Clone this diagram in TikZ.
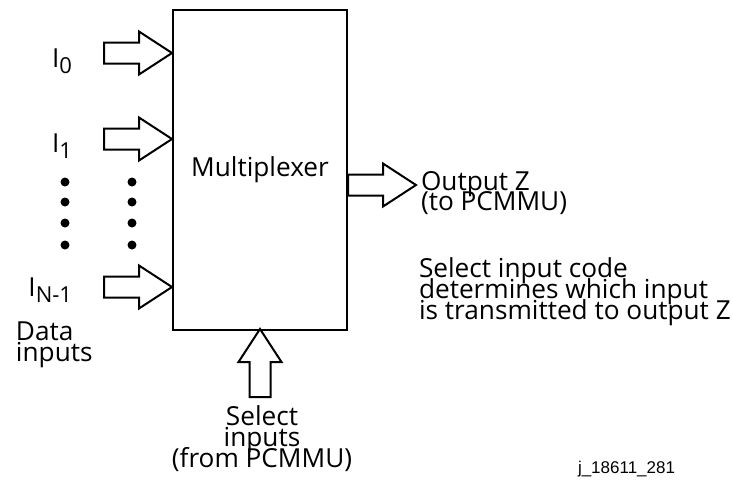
\documentclass[tikz,border=0pt]{standalone}
\usepackage{fontspec}
\setmainfont{Open Sans}
\newfontfamily\idfont{Liberation Sans}
\lineskiplimit=-100pt
\newcommand\lowidx[1]{\raisebox{-0.45ex}{\fontsize{11}{11}\selectfont #1}}

\begin{document}
\begin{tikzpicture}[x=0.5pt,y=-0.5pt,line width=1pt,font=\fontsize{13.1}{10.4}\selectfont,muxbox/.style={draw,minimum width=87pt,minimum height=160pt,inner sep=0pt},idxlabel/.style={inner sep=0pt,anchor=base east},txtblock/.style={inner sep=0pt,align=left,anchor=north west},dot/.style={circle,fill,inner sep=0pt,minimum size=4.5pt},fatarrow/.pic={\draw[line join=miter] (0,-10.5)--(35,-10.5)--(35,-21.5)--(68,0)--(35,21.5)--(35,10.5)--(0,10.5)--cycle;}]
\useasboundingbox (0,0) rectangle (733,484);
\node[muxbox] (mux) at (260,170) {Multiplexer};
\coordinate (in0) at (mux.west |- 0,53);
\coordinate (in1) at (mux.west |- 0,139);
\coordinate (inN) at (mux.west |- 0,287);
\coordinate (outZ) at (mux.east |- 0,185);
\foreach \c in {in0,in1,inN}{\pic at ([xshift=-34pt]\c) {fatarrow};}
\pic at (outZ) {fatarrow};
\pic[rotate=90] at ([yshift=-33pt]mux.south) {fatarrow};
\node[idxlabel] (lab0) at (73,67) {I\lowidx{0}};
\node[idxlabel] (lab1) at (73,152) {I\lowidx{1}};
\node[idxlabel] (labN) at (73,296) {I\lowidx{N-1}};
\foreach \y in {182,202,223,245}{\node[dot] (dl\y) at (65,\y) {};\node[dot] (dr\y) at (132,\y) {};}
\node[txtblock] (datalab) at (15,321) {Data\\inputs};
\node[txtblock] (outlab) at (420,170) {Output Z\\(to PCMMU)};
\node[txtblock] (codelab) at (418,257) {Select input code\\determines which input\\is transmitted to output Z};
\node[inner sep=0pt,align=center,anchor=north] (sellab) at (262,405) {Select\\inputs\\(from PCMMU)};
\node[inner sep=0pt,anchor=base west,font=\idfont\fontsize{8.5}{10}\selectfont] (figid) at (577,473) {j\_18611\_281};
\end{tikzpicture}
\end{document}
